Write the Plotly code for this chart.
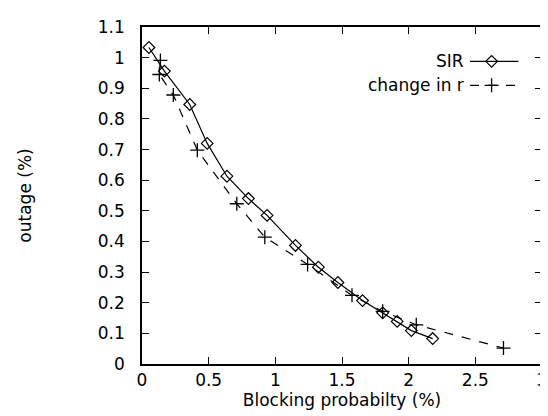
import plotly.graph_objects as go

sir_x = [0.052, 0.168, 0.358, 0.489, 0.637, 0.798, 0.938, 1.151, 1.323, 1.469, 1.654, 1.805, 1.914, 2.02, 2.18]
sir_y = [1.033, 0.956, 0.847, 0.720, 0.613, 0.540, 0.485, 0.387, 0.316, 0.266, 0.207, 0.167, 0.139, 0.109, 0.083]

r_x = [0.138, 0.13, 0.235, 0.415, 0.711, 0.921, 1.242, 1.575, 1.805, 2.057, 2.711]
r_y = [0.991, 0.945, 0.878, 0.698, 0.523, 0.414, 0.325, 0.224, 0.172, 0.128, 0.052]

x_ticks = [0, 0.5, 1, 1.5, 2, 2.5, 3]
y_ticks = [0, 0.1, 0.2, 0.3, 0.4, 0.5, 0.6, 0.7, 0.8, 0.9, 1, 1.1]

legend_names = ["SIR", "change in r"]

FONT = "DejaVu Sans, Liberation Sans, sans-serif"
FS = 17

fig = go.Figure()
fig.add_trace(go.Scatter(
    x=sir_x, y=sir_y, mode="lines+markers", name=legend_names[0],
    line=dict(color="black", width=1.2),
    marker=dict(symbol="diamond-open", size=9, color="black", line=dict(width=1.2)),
    showlegend=False,
))
fig.add_trace(go.Scatter(
    x=r_x, y=r_y, mode="lines+markers", name=legend_names[1],
    line=dict(color="black", width=1.2, dash="dash"),
    marker=dict(symbol="cross-thin", size=10, color="black", line=dict(width=1.3, color="black")),
    showlegend=False,
))

# manual gnuplot-style legend (text left of sample) on an overlay paper axis
leg_y = [0.898, 0.827]
for i, name in enumerate(legend_names):
    fig.add_annotation(x=0.811, y=leg_y[i], xref="paper", yref="paper", text=name,
                       showarrow=False, xanchor="right", yanchor="middle",
                       font=dict(family=FONT, size=FS, color="black"))
fig.add_trace(go.Scatter(
    x=[0.82, 0.941], y=[leg_y[0], leg_y[0]], xaxis="x2", yaxis="y2", mode="lines",
    line=dict(color="black", width=1.2), showlegend=False, hoverinfo="skip"))
fig.add_trace(go.Scatter(
    x=[0.874], y=[leg_y[0]], xaxis="x2", yaxis="y2", mode="markers",
    marker=dict(symbol="diamond-open", size=9, color="black", line=dict(width=1.2)),
    showlegend=False, hoverinfo="skip"))
fig.add_trace(go.Scatter(
    x=[0.82, 0.941], y=[leg_y[1], leg_y[1]], xaxis="x2", yaxis="y2", mode="lines",
    line=dict(color="black", width=1.2, dash="dash"), showlegend=False, hoverinfo="skip"))
fig.add_trace(go.Scatter(
    x=[0.874], y=[leg_y[1]], xaxis="x2", yaxis="y2", mode="markers",
    marker=dict(symbol="cross-thin", size=10, color="black", line=dict(width=1.3, color="black")),
    showlegend=False, hoverinfo="skip"))

axis_common = dict(
    showgrid=False, zeroline=False, showline=True, linecolor="black", linewidth=1.5,
    mirror="allticks", ticks="inside", ticklen=7, tickwidth=1.3, tickcolor="black",
    tickfont=dict(family=FONT, size=FS, color="black"),
)

fig.update_layout(
    width=548, height=416,
    margin=dict(l=134, r=9, t=19, b=60),
    paper_bgcolor="white", plot_bgcolor="white",
    font=dict(family=FONT, size=FS, color="black"),
    xaxis=dict(range=[0, 3], tickvals=x_ticks, ticktext=[f"{v:g}" for v in x_ticks],
               ticklabelstandoff=0, ticklabeloverflow="allow",
               title=dict(text="Blocking probabilty (%)", standoff=0,
                          font=dict(family=FONT, size=FS)), **axis_common),
    yaxis=dict(range=[0, 1.1], tickvals=y_ticks, ticktext=[f"{v:g}" for v in y_ticks],
               ticklabelstandoff=12,
               title=dict(text="outage (%)", standoff=62,
                          font=dict(family=FONT, size=FS)), **axis_common),
    xaxis2=dict(range=[0, 1], overlaying="x", visible=False, fixedrange=True),
    yaxis2=dict(range=[0, 1], overlaying="y", visible=False, fixedrange=True),
    showlegend=False,
)

fig.write_html("out.html")
